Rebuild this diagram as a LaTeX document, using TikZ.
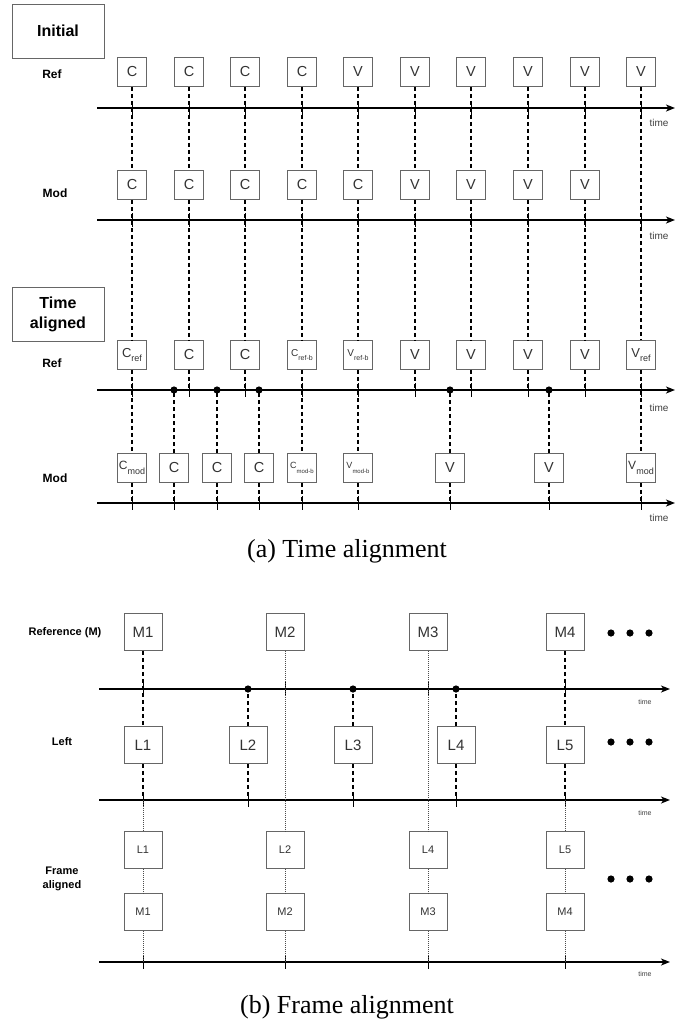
\documentclass[tikz,border=0pt]{standalone}
\usepackage{fontspec}
\setmainfont{Liberation Serif}
\newfontfamily\ars{Liberation Sans}
\usetikzlibrary{arrows.meta}
\newcommand\fs[1]{\fontsize{#1}{#1}\selectfont}
% letter with lowered subscript: #1 size main, #2 letter, #3 sub size, #4 sub text
\newcommand\lsub[4]{{\fs{#1}#2}\raisebox{-0.3em}{\fs{#3}#4}}
\newcommand\mytick[2]{\draw[tk] (#1,#2-7) -- (#1,#2+7);}
\newcommand\bdot[2]{\fill (#1,#2) circle[radius=3.6pt];}
\begin{document}
\begin{tikzpicture}[x=1pt,y=-1pt,
  bx/.style={draw=black!60,line width=0.8pt,fill=white,minimum width=29pt,minimum height=29pt,inner sep=0pt,font=\ars\fs{14.5},text=black!80},
  bbx/.style={draw=black!60,line width=0.8pt,fill=white,minimum width=38pt,minimum height=37pt,inner sep=0pt,font=\ars\fs{15},text=black!80},
  sbx/.style={bbx,font=\ars\fs{11}},
  titlebox/.style={draw=black!60,line width=0.8pt,minimum width=92pt,minimum height=54pt,inner sep=0pt,font=\ars\bfseries\fs{16},align=center},
  rowlab/.style={font=\ars\bfseries\fs{12},align=center},
  rowlabs/.style={font=\ars\bfseries\fs{11},align=center},
  axis/.style={line width=1.3pt,-{Stealth[length=9pt,width=7pt,inset=2.5pt]}},
  timelab/.style={font=\ars\fs{10},text=black!75},
  timelabs/.style={font=\ars\fs{7},text=black!75},
  dl/.style={line width=1.1pt,dash pattern=on 4pt off 3pt},
  dt/.style={line width=0.8pt,black!70,dash pattern=on 1pt off 1pt},
  tk/.style={line width=0.9pt},
  captext/.style={font=\rmfamily\fs{26},anchor=base},
]
\useasboundingbox (0,0) rectangle (697,1021);

% ================= (a) =================
\node[titlebox] (init) at (58,31) {Initial};
\node[rowlab] (lref1) at (52,74) {Ref};
\node[rowlab] (lmod1) at (55,193) {Mod};
\node[titlebox] (tal) at (58,314) {Time\\[4pt]aligned};
\node[rowlab] (lref2) at (52,363) {Ref};
\node[rowlab] (lmod2) at (55,478) {Mod};

% axes
\foreach \n/\y in {1/108,2/220,3/390,4/503}{
  \coordinate (as\n) at (97,\y);
  \coordinate (ae\n) at (675,\y);
  \draw[axis] (as\n) -- (ae\n);
}
\node[timelab] (t1) at (659,123) {time};
\node[timelab] (t2) at (659,236) {time};
\node[timelab] (t3) at (659,408) {time};
\node[timelab] (t4) at (659,518) {time};

% ticks
\foreach \x in {132,189,245,302,358,415,471,528,585,641}{
  \mytick{\x}{108}\mytick{\x}{220}\mytick{\x}{390}
}
\foreach \x in {132,174,217,259,302,358,450,549,641}{\mytick{\x}{503}}

% top rows
\foreach \i/\x/\t in {1/132/C,2/189/C,3/245/C,4/302/C,5/358/V,6/415/V,7/471/V,8/528/V,9/585/V,10/641/V}
  \node[bx] (r\i) at (\x,72) {\t};
\foreach \i/\x/\t in {1/132/C,2/189/C,3/245/C,4/302/C,5/358/C,6/415/V,7/471/V,8/528/V,9/585/V}
  \node[bx] (m\i) at (\x,185) {\t};

% time aligned ref row
\node[bx] (tr1) at (132,355) {\lsub{13}{C}{9}{ref}};
\node[bx] (tr2) at (189,355) {C};
\node[bx] (tr3) at (245,355) {C};
\node[bx] (tr4) at (302,355) {\lsub{10}{C}{7}{ref-b}};
\node[bx] (tr5) at (358,355) {\lsub{10}{V}{7}{ref-b}};
\node[bx] (tr6) at (415,355) {V};
\node[bx] (tr7) at (471,355) {V};
\node[bx] (tr8) at (528,355) {V};
\node[bx] (tr9) at (585,355) {V};
\node[bx] (tr10) at (641,355) {\lsub{13}{V}{9}{ref}};

% time aligned mod row
\node[bx] (tm1) at (132,468) {\lsub{12}{C}{9}{mod}};
\node[bx] (tm2) at (174,468) {C};
\node[bx] (tm3) at (217,468) {C};
\node[bx] (tm4) at (259,468) {C};
\node[bx] (tm5) at (302,468) {\lsub{9}{C}{6}{mod-b}};
\node[bx] (tm6) at (358,468) {\lsub{9}{V}{6}{mod-b}};
\node[bx] (tm7) at (450,468) {V};
\node[bx] (tm8) at (549,468) {V};
\node[bx] (tm9) at (641,468) {\lsub{12}{V}{9}{mod}};

% dashed connectors (a)
\foreach \i in {1,...,9}{
  \draw[dl] (r\i.south) -- (m\i.north);
  \draw[dl] (m\i.south) -- (tr\i.north);
}
\draw[dl] (r10.south) -- (tr10.north);
\foreach \i/\x in {2/189,3/245,6/415,7/471,8/528,9/585}{
  \coordinate (e\i) at (\x,390);
  \draw[dl] (tr\i.south) -- (e\i);
}
\draw[dl] (tr1.south) -- (tm1.north);
\draw[dl] (tr4.south) -- (tm5.north);
\draw[dl] (tr5.south) -- (tm6.north);
\draw[dl] (tr10.south) -- (tm9.north);
\foreach \i/\x in {2/174,3/217,4/259,7/450,8/549}{
  \coordinate (dd\i) at (\x,390);
  \draw[dl] (tm\i.north) -- (dd\i);
  \bdot{\x}{390}
}
\foreach \i/\x in {1/132,2/174,3/217,4/259,5/302,6/358,7/450,8/549,9/641}{
  \coordinate (f\i) at (\x,503);
  \draw[dl] (tm\i.south) -- (f\i);
}

\node[captext] (capa) at (347,557) {(a) Time alignment};

% ================= (b) =================
\node[rowlabs] (lrefm) at (65,633) {Reference (M)};
\node[rowlabs] (lleft) at (62,742) {Left};
\node[rowlabs] (lfa) at (62,879) {Frame\\[2.5pt]aligned};

\foreach \n/\y in {5/689,6/800,7/962}{
  \coordinate (as\n) at (99,\y);
  \coordinate (ae\n) at (670,\y);
  \draw[axis] (as\n) -- (ae\n);
}
\node[timelabs] (t5) at (645,702) {time};
\node[timelabs] (t6) at (645,813) {time};
\node[timelabs] (t7) at (645,974) {time};

\foreach \x in {143,285,428,565}{\mytick{\x}{689}\mytick{\x}{962}}
\foreach \x in {143,248,353,456,565}{\mytick{\x}{800}}

\node[bbx] (M1) at (143,632) {M1};
\node[bbx] (M2) at (285,632) {M2};
\node[bbx] (M3) at (428,632) {M3};
\node[bbx] (M4) at (565,632) {M4};

\node[bbx] (L1) at (143,745) {L1};
\node[bbx] (L2) at (248,745) {L2};
\node[bbx] (L3) at (353,745) {L3};
\node[bbx] (L4) at (456,745) {L4};
\node[bbx] (L5) at (565,745) {L5};

\node[sbx] (FL1) at (143,850) {L1};
\node[sbx] (FL2) at (285,850) {L2};
\node[sbx] (FL4) at (428,850) {L4};
\node[sbx] (FL5) at (565,850) {L5};
\node[sbx] (FM1) at (143,912) {M1};
\node[sbx] (FM2) at (285,912) {M2};
\node[sbx] (FM3) at (428,912) {M3};
\node[sbx] (FM4) at (565,912) {M4};

\foreach \y in {633,742,879}{
  \foreach \x in {611,630,649}{\bdot{\x}{\y}}
}

% connectors (b)
\draw[dl] (M1.south) -- (L1.north);
\draw[dl] (M4.south) -- (L5.north);
\draw[dt] (M2.south) -- (FL2.north);
\draw[dt] (M3.south) -- (FL4.north);
\foreach \n/\x in {2/248,3/353,4/456}{
  \coordinate (g\n) at (\x,689);
  \draw[dl] (L\n.north) -- (g\n);
  \bdot{\x}{689}
}
\foreach \n/\x in {1/143,2/248,3/353,4/456,5/565}{
  \coordinate (h\n) at (\x,800);
  \draw[dl] (L\n.south) -- (h\n);
}
\draw[dt] (h1) -- (FL1.north);
\draw[dt] (h5) -- (FL5.north);
\foreach \a/\b/\x in {1/1/143,2/2/285,4/3/428,5/4/565}{
  \draw[dt] (FL\a.south) -- (FM\b.north);
  \coordinate (k\b) at (\x,962);
  \draw[dt] (FM\b.south) -- (k\b);
}

\node[captext] (capb) at (347,1013) {(b) Frame alignment};
\end{tikzpicture}
\end{document}
